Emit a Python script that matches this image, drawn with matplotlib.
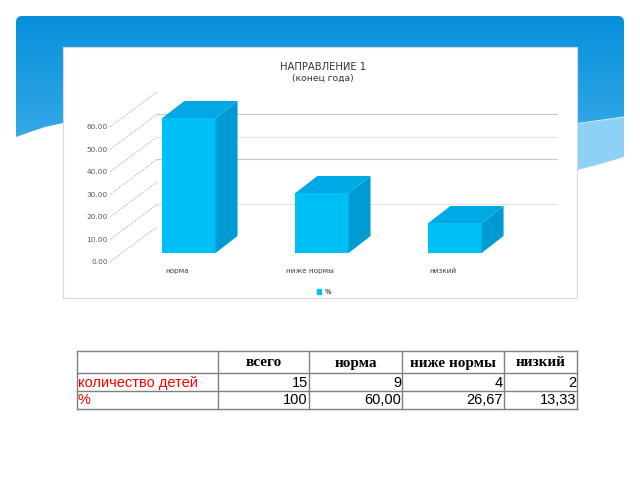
import numpy as np
import matplotlib.pyplot as plt
from matplotlib.patches import Rectangle, Polygon, FancyBboxPatch, Patch
from matplotlib.colors import LinearSegmentedColormap

# chart data
categories = ['норма', 'ниже нормы', 'низкий']
percent = [60.00, 26.67, 13.33]
yticks = [0, 10, 20, 30, 40, 50, 60]

# table data
table_header = ['всего', 'норма', 'ниже нормы', 'низкий']
row_names = ['количество детей', '%']
row_counts = ['15', '9', '4', '2']
row_percent = ['100', '60,00', '26,67', '13,33']

fig = plt.figure(figsize=(6.4, 4.8), dpi=100)

# background layer in pixel coordinates
bg = fig.add_axes([0, 0, 1, 1])
bg.set_xlim(0, 640)
bg.set_ylim(480, 0)
bg.axis('off')

# blue banner with gradient
banner = FancyBboxPatch((16, 16), 608, 190, boxstyle='round,pad=0,rounding_size=6',
                        linewidth=0, facecolor='none')
bg.add_patch(banner)
cmap = LinearSegmentedColormap.from_list('banner', ['#0890db', '#2aa3e4', '#5cbdf0'])
grad = np.linspace(0, 1, 200).reshape(-1, 1)
im = bg.imshow(grad, cmap=cmap, extent=(16, 624, 206, 16), aspect='auto', zorder=1)
im.set_clip_path(banner)

# lighter wave on the right
bg.add_patch(Polygon([(560, 126), (592, 122), (624, 117), (624, 158), (600, 164), (577, 170), (560, 175)],
                     closed=True, facecolor='#8ed1f6', edgecolor='none', zorder=2))
bg.plot([560, 624], [126, 117], color='#cdeafb', lw=0.8, zorder=2)
# white wave cut-outs
bg.add_patch(Polygon([(16, 137), (30, 132), (45, 127), (63, 123), (80, 120), (80, 215), (16, 215)],
                     closed=True, facecolor='white', edgecolor='none', zorder=2))
bg.add_patch(Polygon([(560, 175), (577, 170), (600, 164), (624, 157), (624, 215), (560, 215)],
                     closed=True, facecolor='white', edgecolor='none', zorder=2))

# chart frame
bg.add_patch(Rectangle((63, 47), 514, 251, facecolor='white', edgecolor='#d9d9d9', lw=0.8, zorder=3))
fig.text(323 / 640, 1 - 67 / 480, 'НАПРАВЛЕНИЕ 1', ha='center', va='center', fontsize=7.2, color='#333333')
fig.text(323 / 640, 1 - 78 / 480, '(конец года)', ha='center', va='center', fontsize=6.6, color='#333333')

# chart axes: x = category index, y = value
ax = fig.add_axes([63 / 640, 1 - 298 / 480, 514 / 640, 251 / 480], zorder=4)
ax.set_xlim(-0.947, 2.917)
ax.set_ylim(-20, 91.56)
ax.axis('off')
ax.patch.set_alpha(0)

dx, dy = 0.165, 7.56          # bar depth
lx, ly = -0.09, -4.0          # label plane offset
bx, by = 0.27, 11.56          # back wall offset
wall_x0, wall_x1 = -0.241, 2.767

for v in yticks:
    ax.plot([-0.594, wall_x0], [v + ly, v + by], color='#bfbfbf', lw=0.6, ls=(0, (3, 1)))
    ax.text(-0.61, v + ly, f'{v:.2f}', ha='right', va='center', fontsize=5.3, color='#595959')
for v in [10, 30, 40, 50]:
    ax.plot([wall_x0, wall_x1], [v + by, v + by], color='#c9c9c9' if v in (30, 50) else '#e3e3e3', lw=0.8)

x = np.arange(len(categories))
w = 0.4
ax.bar(x, percent, width=w, color='#00bff7', zorder=3)
for xi, v, name in zip(x, percent, categories):
    r = xi + w / 2
    l = xi - w / 2
    ax.add_patch(Polygon([(r, 0), (r + dx, dy), (r + dx, v + dy), (r, v)],
                         closed=True, facecolor='#009bd3', edgecolor='none', zorder=3))
    ax.add_patch(Polygon([(l, v), (r, v), (r + dx, v + dy), (l + dx, v + dy)],
                         closed=True, facecolor='#00a9e4', edgecolor='none', zorder=3))
    ax.text(xi + lx, -8, name, ha='center', va='center', fontsize=5.2, color='#404040')

ax.legend(handles=[Patch(color='#00bff7', label='%')], loc='center',
          bbox_to_anchor=(324 / 640, 1 - 292 / 480), bbox_transform=fig.transFigure,
          frameon=False, fontsize=5, handlelength=0.6, handleheight=0.6, handletextpad=0.4)

# table
col_edges = [77, 218, 309, 402, 504, 577]
row_edges = [351, 373, 391, 409]
for yy in row_edges:
    bg.plot([col_edges[0], col_edges[-1]], [yy, yy], color='#7f7f7f', lw=1.0, zorder=5)
for xx in col_edges:
    bg.plot([xx, xx], [row_edges[0], row_edges[-1]], color='#7f7f7f', lw=1.0, zorder=5)

for i, h in enumerate(table_header):
    bg.text((col_edges[i + 1] + col_edges[i + 2]) / 2, 363, h, ha='center', va='center',
            fontsize=11, fontweight='bold', family='Liberation Serif', color='black', zorder=6)
for yy, name, vals in [(383, row_names[0], row_counts), (400, row_names[1], row_percent)]:
    bg.text(78, yy, name, ha='left', va='center', fontsize=10.5, family='Liberation Sans',
            color='#ff0000', zorder=6)
    for i, val in enumerate(vals):
        bg.text(col_edges[i + 2] - 1, yy, val, ha='right', va='center', fontsize=10.5,
                family='Liberation Sans', color='black', zorder=6)

fig.savefig('out.png', dpi=100)
